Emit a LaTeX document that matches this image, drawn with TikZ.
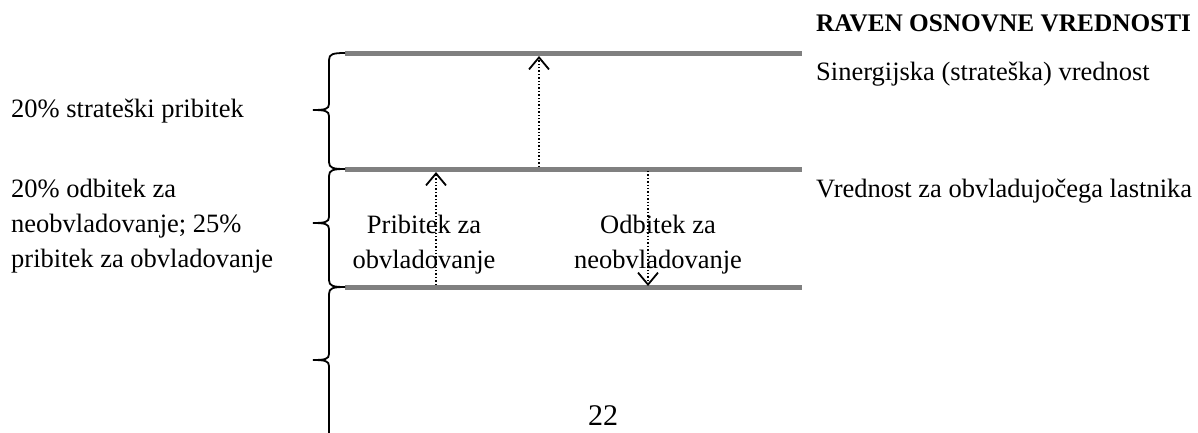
\documentclass[tikz,border=0pt]{standalone}
\usepackage{fontspec}
\setmainfont{Liberation Serif}
\usetikzlibrary{arrows.meta}
\definecolor{levelgray}{RGB}{128,128,128}
\tikzset{
  txt/.style={inner sep=0pt, font=\fontsize{26.5}{32}\selectfont},
  level/.style={draw=levelgray, line width=5pt},
  brace/.style={draw=black, line width=1.8pt},
  flow/.style={draw=black, line width=1.4pt, dotted, -{Straight Barb[length=12pt,width=20pt,line width=1.8pt]}, shorten >=1pt},
}
\begin{document}
\begin{tikzpicture}[x=1pt,y=-1pt]
\useasboundingbox (0,0) rectangle (1198,432);
% level lines
\coordinate (l1a) at (345,53);  \coordinate (l1b) at (802,53);
\coordinate (l2a) at (345,169); \coordinate (l2b) at (802,169);
\coordinate (l3a) at (345,287); \coordinate (l3b) at (802,287);
\draw[level] (l1a) -- (l1b);
\draw[level] (l2a) -- (l2b);
\draw[level] (l3a) -- (l3b);
% braces
\draw[brace] (345,53) .. controls (333,53) and (329,54) .. (329,60) -- (329,104)
  .. controls (329,109) and (325,110) .. (313,110)
  .. controls (325,110) and (329,111) .. (329,116) -- (329,162)
  .. controls (329,168) and (333,169) .. (345,169);
\draw[brace] (345,169) .. controls (333,169) and (329,170) .. (329,176) -- (329,217)
  .. controls (329,222) and (325,223) .. (313,223)
  .. controls (325,223) and (329,224) .. (329,229) -- (329,280)
  .. controls (329,286) and (333,287) .. (345,287);
\draw[brace] (345,287) .. controls (333,287) and (329,288) .. (329,294) -- (329,354)
  .. controls (329,359) and (325,360) .. (313,360)
  .. controls (325,360) and (329,361) .. (329,366) -- (329,434);
% arrows
\coordinate (a1s) at (539,167); \coordinate (a1e) at (539,55);
\coordinate (a2s) at (436,285); \coordinate (a2e) at (436,171);
\coordinate (a3s) at (648,171); \coordinate (a3e) at (648,287);
\draw[flow] (a1s) -- (a1e);
\draw[flow] (a2s) -- (a2e);
\draw[flow] (a3s) -- (a3e);
% left labels
\node[txt, anchor=base west] (t1) at (11,117) {20\% strateški pribitek};
\node[txt, anchor=base west] (t2) at (11,197) {20\% odbitek za};
\node[txt, anchor=base west] (t3) at (11,232) {neobvladovanje; 25\%};
\node[txt, anchor=base west] (t4) at (11,267) {pribitek za obvladovanje};
% middle labels
\node[txt, anchor=base] (m1) at (424,233) {Pribitek za};
\node[txt, anchor=base] (m2) at (424,268) {obvladovanje};
\node[txt, anchor=base] (m3) at (658,233) {Odbitek za};
\node[txt, anchor=base] (m4) at (658,268) {neobvladovanje};
% right labels
\node[txt, anchor=base west, font=\fontsize{25.3}{32}\selectfont\bfseries] (r1) at (816,31) {RAVEN OSNOVNE VREDNOSTI};
\node[txt, anchor=base west] (r2) at (816,80) {Sinergijska (strateška) vrednost};
\node[txt, anchor=base west] (r3) at (816,197) {Vrednost za obvladujočega lastnika};
% page number
\node[inner sep=0pt, anchor=base, font=\fontsize{30}{36}\selectfont] (pg) at (603,425) {22};
\end{tikzpicture}
\end{document}
